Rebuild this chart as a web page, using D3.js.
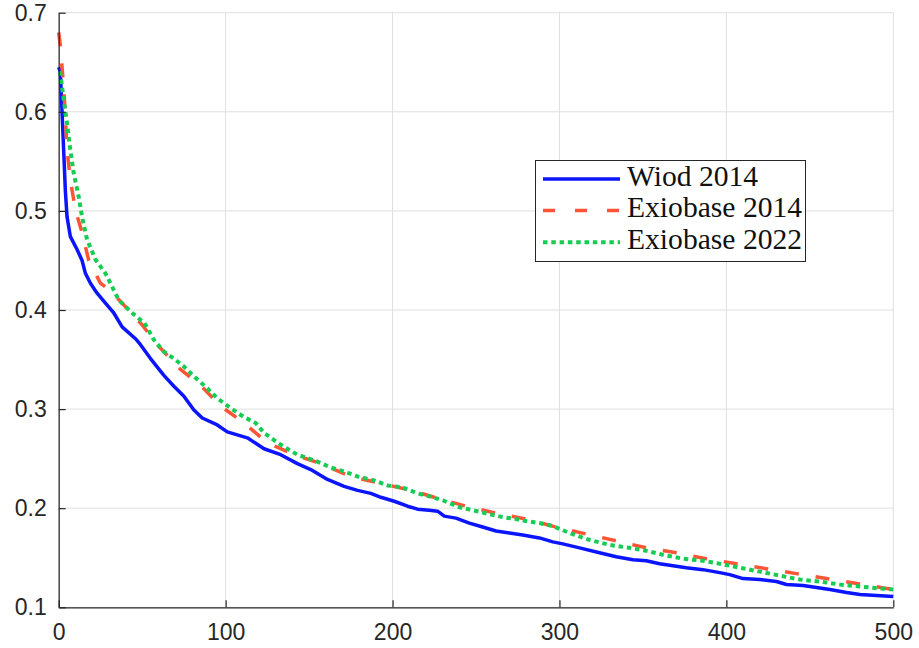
<!DOCTYPE html>
<html>
<head>
<meta charset="utf-8">
<script src="https://cdn.jsdelivr.net/npm/d3@7"></script>
<style>
  html, body { margin: 0; padding: 0; background: #ffffff; }
  svg { display: block; }
  .tick text { font-family: "Liberation Sans", Arial, Helvetica, sans-serif; fill: #262626; }
</style>
</head>
<body>
<svg id="chart" width="919" height="648"></svg>
<script>
// Axis ticks
const xTicks = [0, 100, 200, 300, 400, 500];
const yTicks = [0.1, 0.2, 0.3, 0.4, 0.5, 0.6, 0.7];
const yTickLabels = ["0.1", "0.2", "0.3", "0.4", "0.5", "0.6", "0.7"];

// Series names, in legend order
const seriesNames = ["Wiod 2014", "Exiobase 2014", "Exiobase 2022"];

// Wiod 2014
const wiodX = [0, 1, 2, 3, 4, 5, 7, 11, 14, 16, 19, 23, 28, 33, 38, 46, 49, 55, 63, 69, 75, 81, 86, 95, 101,
  113, 123, 133, 143, 151, 161, 171, 179, 187, 193, 201, 209, 215, 222, 227, 231, 238, 246, 254, 262, 270,
  278, 288, 296, 302, 312, 324, 334, 344, 352, 360, 368, 376, 386, 396, 402, 410, 420, 430, 436, 446, 454,
  462, 472, 480, 490, 500];
const wiodY = [0.645, 0.640, 0.600, 0.560, 0.520, 0.494, 0.474, 0.461, 0.450, 0.437, 0.427, 0.417, 0.407,
  0.397, 0.383, 0.371, 0.365, 0.351, 0.334, 0.323, 0.313, 0.299, 0.291, 0.284, 0.277, 0.271, 0.260, 0.254,
  0.245, 0.239, 0.229, 0.222, 0.218, 0.215, 0.211, 0.207, 0.202, 0.199, 0.198, 0.197, 0.192, 0.190, 0.185,
  0.181, 0.177, 0.175, 0.173, 0.170, 0.166, 0.164, 0.160, 0.155, 0.151, 0.148, 0.147, 0.144, 0.142, 0.140,
  0.138, 0.135, 0.133, 0.129, 0.128, 0.126, 0.123, 0.122, 0.120, 0.118, 0.115, 0.113, 0.112, 0.111];

// Exiobase 2014
const exio14X = [0, 1, 2, 3, 4, 5, 7, 10, 14, 18, 25, 29, 38, 50, 59, 73, 85, 97, 111, 125, 141, 157, 175,
  193, 211, 227, 244, 262, 280, 298, 316, 334, 352, 370, 388, 406, 424, 442, 460, 478, 496, 500];
const exio14Y = [0.680, 0.667, 0.645, 0.625, 0.595, 0.561, 0.531, 0.501, 0.478, 0.450, 0.427, 0.422, 0.407,
  0.385, 0.365, 0.340, 0.324, 0.303, 0.286, 0.266, 0.254, 0.245, 0.232, 0.225, 0.218, 0.210, 0.202, 0.195,
  0.189, 0.181, 0.174, 0.167, 0.160, 0.155, 0.149, 0.144, 0.139, 0.134, 0.129, 0.124, 0.119, 0.118];

// Exiobase 2022
const exio22X = [0, 1, 3, 5, 7, 9, 12, 14, 17, 22, 28, 36, 44, 49, 51, 57, 63, 69, 75, 81, 89, 95, 103, 111,
  118, 123, 133, 143, 155, 163, 171, 179, 189, 197, 206, 215, 222, 230, 240, 248, 258, 266, 274, 280, 288,
  296, 306, 318, 330, 342, 352, 362, 374, 386, 396, 408, 420, 432, 444, 456, 468, 480, 492, 500];
const exio22Y = [0.640, 0.639, 0.612, 0.588, 0.561, 0.538, 0.514, 0.494, 0.471, 0.451, 0.437, 0.410, 0.397,
  0.390, 0.388, 0.370, 0.358, 0.351, 0.343, 0.333, 0.321, 0.311, 0.301, 0.292, 0.286, 0.276, 0.264, 0.254,
  0.247, 0.241, 0.237, 0.232, 0.228, 0.223, 0.221, 0.215, 0.212, 0.208, 0.201, 0.198, 0.194, 0.191, 0.189,
  0.187, 0.185, 0.182, 0.175, 0.168, 0.163, 0.160, 0.157, 0.153, 0.149, 0.147, 0.144, 0.140, 0.136, 0.132,
  0.128, 0.126, 0.123, 0.121, 0.119, 0.118];

const series = [
  { name: seriesNames[0], xs: wiodX, ys: wiodY, color: "#0a14ff", width: 3.5, dash: null },
  { name: seriesNames[1], xs: exio14X, ys: exio14Y, color: "#ff5436", width: 3.5, dash: "14,17" },
  { name: seriesNames[2], xs: exio22X, ys: exio22Y, color: "#16cc52", width: 4, dash: "4.5,3.8" }
];

const svg = d3.select("#chart");
const plotLeft = 58.7, plotRight = 893.3, plotTop = 12.7, plotBottom = 607.3;

const x = d3.scaleLinear().domain([0, 500]).range([plotLeft, plotRight]);
const y = d3.scaleLinear().domain([0.1, 0.7]).range([plotBottom, plotTop]);

// Grid
const grid = svg.append("g").attr("stroke", "#dfdfdf").attr("stroke-width", 1);
grid.selectAll("line.v").data(xTicks).join("line").attr("class", "v")
  .attr("x1", d => x(d)).attr("x2", d => x(d)).attr("y1", plotTop).attr("y2", plotBottom);
grid.selectAll("line.h").data(yTicks).join("line").attr("class", "h")
  .attr("x1", plotLeft).attr("x2", plotRight).attr("y1", d => y(d)).attr("y2", d => y(d));

// Lines
const line = d3.line().x(d => x(d[0])).y(d => y(d[1]));
const lines = svg.append("g").attr("fill", "none");
series.forEach(s => {
  const pts = s.xs.map((v, i) => [v, s.ys[i]]);
  const p = lines.append("path").datum(pts)
    .attr("d", line)
    .attr("stroke", s.color)
    .attr("stroke-width", s.width)
    .attr("stroke-linejoin", "round");
  if (s.dash) p.attr("stroke-dasharray", s.dash).attr("stroke-linecap", "butt");
});

// Axes, ticks pointing inward
const xAxis = d3.axisBottom(x).tickValues(xTicks).tickSize(-7).tickSizeOuter(0).tickPadding(16)
  .tickFormat(d3.format("d"));
const yAxis = d3.axisLeft(y).tickValues(yTicks).tickSize(-7).tickSizeOuter(0).tickPadding(12)
  .tickFormat((d, i) => yTickLabels[i]);

const gx = svg.append("g").attr("transform", `translate(0,${plotBottom})`).call(xAxis);
const gy = svg.append("g").attr("transform", `translate(${plotLeft},0)`).call(yAxis);
[gx, gy].forEach(g => {
  g.select(".domain").attr("stroke", "#262626").attr("stroke-width", 1.2);
  g.selectAll(".tick line").attr("stroke", "#262626").attr("stroke-width", 1.2);
  g.selectAll(".tick text").attr("font-size", 23).attr("fill", "#262626");
});

// Legend
const lg = svg.append("g");
lg.append("rect").attr("x", 535.5).attr("y", 160.5).attr("width", 270).attr("height", 101)
  .attr("fill", "#ffffff").attr("stroke", "#262626").attr("stroke-width", 1);
series.forEach((s, i) => {
  const cy = 179 + i * 31.6;
  const l = lg.append("line").attr("x1", 543).attr("x2", 620).attr("y1", cy).attr("y2", cy)
    .attr("stroke", s.color).attr("stroke-width", s.width);
  if (s.dash) l.attr("stroke-dasharray", i === 1 ? "12,20" : s.dash);
  lg.append("text").attr("x", 627).attr("y", cy + 6.5)
    .attr("font-family", "'Liberation Serif', 'Times New Roman', serif")
    .attr("font-size", 29.6).attr("fill", "#111111")
    .text(s.name);
});
</script>
</body>
</html>
